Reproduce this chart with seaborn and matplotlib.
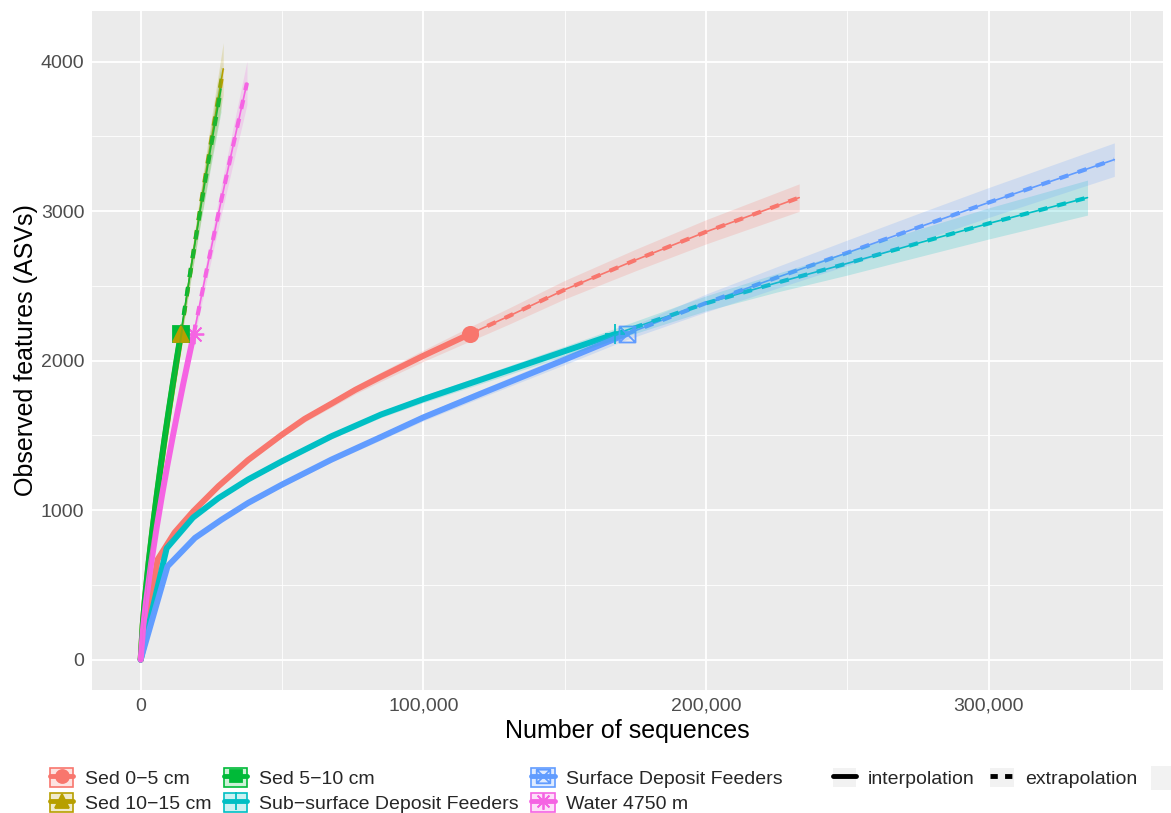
import matplotlib
matplotlib.use("Agg")
import matplotlib.pyplot as plt
import matplotlib.ticker as tik
import seaborn as sns
import pandas as pd
from matplotlib.colors import to_rgba
from matplotlib.lines import Line2D
from matplotlib.patches import Patch, Rectangle
from matplotlib.path import Path

samples = ["Sed 0−5 cm", "Sed 10−15 cm", "Sed 5−10 cm",
           "Sub−surface Deposit Feeders", "Surface Deposit Feeders", "Water 4750 m"]
colors = ["#F8766D", "#B79F00", "#00BA38", "#00BFC4", "#619CFF", "#F564E3"]

# observed sample size and richness
obs_n = [116500, 14300, 14200, 168000, 172000, 18800]
obs_s = [2178, 2178, 2178, 2178, 2178, 2178]

sed05_x = [0, 6000, 12000, 18500, 27500, 38000, 50000, 58000, 67500, 76000, 85000, 100000, 116500,
           130000, 150000, 175000, 200000, 233000]
sed05_y = [0, 670, 850, 990, 1160, 1335, 1505, 1610, 1712, 1805, 1892, 2032, 2178,
           2295, 2474, 2672, 2861, 3090]
sed05_ci = [0, 4, 6, 8, 11, 14, 18, 21, 24, 27, 31, 38, 48, 54, 62, 72, 81, 92]

sed1015_x = [0, 715, 1430, 2860, 4290, 5720, 7150, 8580, 10010, 11440, 12870, 14300,
             18000, 21700, 25450, 29200]
sed1015_y = [0, 230, 388, 651, 882, 1096, 1296, 1485, 1666, 1843, 2012, 2178,
             2645, 3095, 3530, 3951]
sed1015_ci = [0, 5, 8, 12, 15, 18, 22, 26, 30, 34, 38, 42, 75, 110, 142, 175]

sed510_x = [0, 710, 1420, 2840, 4260, 5680, 7100, 8520, 9940, 11360, 12780, 14200,
            17750, 21300, 24850, 28400]
sed510_y = [0, 228, 392, 655, 885, 1098, 1298, 1487, 1668, 1843, 2012, 2178,
            2615, 3030, 3430, 3817]
sed510_ci = [0, 5, 8, 12, 15, 18, 22, 26, 30, 34, 38, 42, 70, 100, 128, 155]

subdf_x = [0, 9200, 18500, 27500, 38000, 50000, 67500, 85000, 100000, 120000, 150000, 168000,
           200000, 225000, 250000, 275000, 300000, 335000]
subdf_y = [0, 745, 950, 1080, 1205, 1327, 1494, 1639, 1742, 1870, 2063, 2178,
           2383, 2520, 2650, 2785, 2917, 3090]
subdf_ci = [0, 6, 8, 10, 12, 14, 17, 20, 23, 27, 33, 38, 50, 62, 78, 92, 104, 117]

surfdf_x = [0, 9500, 19200, 28600, 38000, 50000, 67500, 85000, 100000, 120000, 150000, 172000,
            200000, 225000, 250000, 275000, 300000, 344500]
surfdf_y = [0, 624, 814, 936, 1048, 1171, 1338, 1489, 1620, 1776, 2006, 2178,
            2385, 2555, 2721, 2890, 3057, 3344]
surfdf_ci = [0, 6, 8, 10, 12, 14, 17, 20, 23, 27, 33, 38, 60, 72, 85, 93, 100, 112]

water_x = [0, 940, 1880, 3760, 5640, 7520, 9400, 11280, 13160, 15040, 16920, 18800,
           23500, 28200, 32900, 37600]
water_y = [0, 230, 388, 651, 882, 1096, 1296, 1485, 1666, 1843, 2012, 2178,
           2620, 3045, 3455, 3857]
water_ci = [0, 5, 8, 12, 15, 18, 22, 26, 30, 34, 38, 42, 70, 96, 122, 145]

curve_x = [sed05_x, sed1015_x, sed510_x, subdf_x, surfdf_x, water_x]
curve_y = [sed05_y, sed1015_y, sed510_y, subdf_y, surfdf_y, water_y]
curve_ci = [sed05_ci, sed1015_ci, sed510_ci, subdf_ci, surfdf_ci, water_ci]

# build a long table
rows = []
for name, n, xs, ys, cs in zip(samples, obs_n, curve_x, curve_y, curve_ci):
    for xv, yv, cv in zip(xs, ys, cs):
        if xv <= n:
            rows.append((name, xv, yv, yv - cv, yv + cv, "interpolation"))
        if xv >= n:
            rows.append((name, xv, yv, yv - cv, yv + cv, "extrapolation"))
df = pd.DataFrame(rows, columns=["sample", "x", "y", "lo", "hi", "method"])
df_int = df[df.method == "interpolation"]
df_ext = df[df.method == "extrapolation"]

# box with a cross (ggplot shape 7)
boxx = Path([(-1, -1), (1, -1), (1, 1), (-1, 1), (-1, -1), (-1, -1), (1, 1), (-1, 1), (1, -1)],
            [Path.MOVETO, Path.LINETO, Path.LINETO, Path.LINETO, Path.CLOSEPOLY,
             Path.MOVETO, Path.LINETO, Path.MOVETO, Path.LINETO])
markers = ["o", "^", "s", "+", boxx, (8, 2, 0)]
msizes = [11, 12, 11, 15, 11.5, 14]
filled = [True, True, True, False, False, False]
pt_order = [4.6, 4.8, 4.7, 4.5, 4.5, 4.5]

#### style
sns.set_theme(style="darkgrid")
plt.rcParams["font.family"] = ["Liberation Sans", "DejaVu Sans"]
plt.rcParams["axes.unicode_minus"] = True

fig = plt.figure(figsize=(11.71, 8.13), dpi=100)
ax = fig.add_axes([92/1171, 1-690/813, (1163-92)/1171, (690-11)/813])
ax.set_facecolor("#EBEBEB")

sns.lineplot(data=df_int, x="x", y="y", hue="sample", hue_order=samples, palette=colors,
             estimator=None, sort=False, lw=4.3, legend=False, ax=ax, zorder=4)
sns.lineplot(data=df_ext, x="x", y="y", hue="sample", hue_order=samples, palette=colors,
             estimator=None, sort=False, lw=1.2, legend=False, ax=ax, zorder=4)
sns.lineplot(data=df_ext, x="x", y="y", hue="sample", hue_order=samples, palette=colors,
             estimator=None, sort=False, lw=3.0, linestyle=(0, (2.2, 2.4)),
             legend=False, ax=ax, zorder=4)

# observed points
for c, n, s, m, ms, f, z in zip(colors, obs_n, obs_s, markers, msizes, filled, pt_order):
    ax.plot([n], [s], linestyle="none", marker=m, ms=ms, color=c,
            mfc=c if f else "none", mec=c, mew=1.3, zorder=z)

# confidence ribbons on top, like ggiNEXT
for name, c in zip(samples, colors):
    sub = df[df["sample"] == name].sort_values("x")
    ax.fill_between(sub.x, sub.lo, sub.hi, color=c, alpha=0.2, lw=0, zorder=5)

ax.set_xlim(-17225, 361725)
ax.set_ylim(-203, 4338)
ax.xaxis.set_major_locator(tik.MultipleLocator(100000))
ax.xaxis.set_minor_locator(tik.MultipleLocator(50000))
ax.yaxis.set_major_locator(tik.MultipleLocator(1000))
ax.yaxis.set_minor_locator(tik.MultipleLocator(500))
ax.xaxis.set_major_formatter(tik.StrMethodFormatter("{x:,.0f}"))
ax.grid(which="major", color="white", lw=1.3)
ax.grid(which="minor", color="white", lw=0.6)
for sp in ax.spines.values():
    sp.set_visible(False)
ax.tick_params(which="major", length=3.5, width=0.9, color="#333333",
               labelcolor="#4D4D4D", labelsize=14, pad=2)
ax.tick_params(which="minor", length=0)
ax.set_xlabel("Number of sequences", fontsize=18, color="black", labelpad=3)
ax.set_ylabel("Observed features (ASVs)", fontsize=18, color="black", labelpad=2)

#### legends
h1 = []
for c, m, ms, f in zip(colors, markers, msizes, filled):
    box = Patch(facecolor=to_rgba(c, 0.2), edgecolor=c, lw=1.2)
    ln = Line2D([], [], color=c, lw=3.5, marker=m, ms=ms * 0.85,
                mfc=c if f else "none", mec=c, mew=1.3)
    h1.append((box, ln))
fig.legend(h1, samples, loc="upper left", bbox_to_anchor=(50/1171, 1-768/813), ncol=3,
           frameon=False, borderpad=0, borderaxespad=0, fontsize=14,
           handlelength=1.2, handleheight=1.15, handletextpad=0.6,
           columnspacing=0.65, labelspacing=0.22)

h2 = [(Patch(facecolor="#F2F2F2", edgecolor="none"), Line2D([], [], color="black", lw=3.5)),
      (Patch(facecolor="#F2F2F2", edgecolor="none"),
       Line2D([], [], color="black", lw=3.5, linestyle=(0, (1.5, 1.5))))]
fig.legend(h2, ["interpolation", "extrapolation"], loc="upper left",
           bbox_to_anchor=(833/1171, 1-768/813), ncol=2,
           frameon=False, borderpad=0, borderaxespad=0, fontsize=14,
           handlelength=1.2, handleheight=1.15, handletextpad=0.6,
           columnspacing=0.8, labelspacing=0.22)

fig.add_artist(Rectangle((1151/1171, 1-790/813), 30/1171, 24/813,
                         transform=fig.transFigure, facecolor="#F2F2F2", edgecolor="none"))

plt.savefig("out.png", dpi=100)
